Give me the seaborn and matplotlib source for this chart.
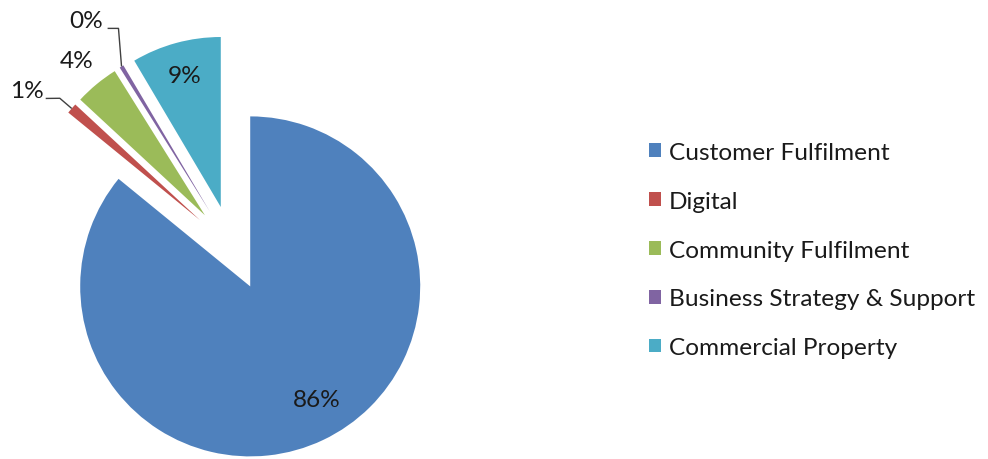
import matplotlib
matplotlib.use("Agg")
import matplotlib.pyplot as plt
import seaborn as sns
import numpy as np

# Budget split by business area (percent)
categories = [
    "Customer Fulfilment",
    "Digital",
    "Community Fulfilment",
    "Business Strategy & Support",
    "Commercial Property",
]
shares = [85.9, 1.0, 4.2, 0.4, 8.5]
pct_labels = ["86%", "1%", "4%", "0%", "9%"]
colors = ["#4F81BD", "#C0504D", "#9BBB59", "#8064A2", "#4BACC6"]

sns.set_theme(style="white")
plt.rcParams["font.family"] = ["Lato", "DejaVu Sans"]
FS = 17.6

W, H = 988, 460
fig = plt.figure(figsize=(W / 100, H / 100), dpi=100)

# Pie axes: radius 1 in data units, square axes sized in pixels
R = 170
cx, cy = 232, H - 249
half = 1.4
side = 2 * half * R
ax = fig.add_axes([(cx - side / 2) / W, (cy - side / 2) / H, side / W, side / H])

wedges, _ = ax.pie(
    shares,
    colors=colors,
    startangle=90,
    counterclock=False,
    explode=[0.25] * len(shares),
    radius=1,
    wedgeprops=dict(linewidth=0),
)
ax.set_xlim(-half, half)
ax.set_ylim(-half, half)
ax.set_aspect("equal")
ax.axis("off")


def mid_dir(w, turn=0.0):
    a = np.deg2rad((w.theta1 + w.theta2) / 2 + turn)
    return np.array([np.cos(a), np.sin(a)])


def inside(i, r, turn=0.0):
    w = wedges[i]
    p = np.array(w.center) + r * mid_dir(w, turn)
    ax.text(p[0], p[1], pct_labels[i], ha="center", va="center", fontsize=FS, color="#1a1a1a")


# labels inside the large slices
inside(0, 0.77, turn=5)
inside(4, 0.80)
# label outside the community slice, no leader
inside(2, 1.18)


def leader(i, elbow, end, txt):
    w = wedges[i]
    o = np.array(w.center) + 1.0 * mid_dir(w)
    pts = np.array([o, o + elbow, o + end])
    ax.plot(pts[:, 0], pts[:, 1], color="#404040", lw=1.0, solid_capstyle="butt")
    ax.text(o[0] + txt[0], o[1] + txt[1], pct_labels[i], ha="right", va="center",
            fontsize=FS, color="#1a1a1a")


leader(1, (-0.07, 0.06), (-0.153, 0.059), (-0.165, 0.108))
leader(3, (-0.018, 0.224), (-0.082, 0.224), (-0.108, 0.272))

leg = fig.legend(
    wedges,
    categories,
    loc="center left",
    bbox_to_anchor=(649 / W, (H - 251) / H),
    frameon=False,
    fontsize=FS,
    handlelength=0.49,
    handleheight=0.49,
    handletextpad=0.33,
    labelspacing=1.14,
    borderpad=0,
    borderaxespad=0,
)
for t in leg.get_texts():
    t.set_color("#1a1a1a")

fig.savefig("out.png", dpi=100)
